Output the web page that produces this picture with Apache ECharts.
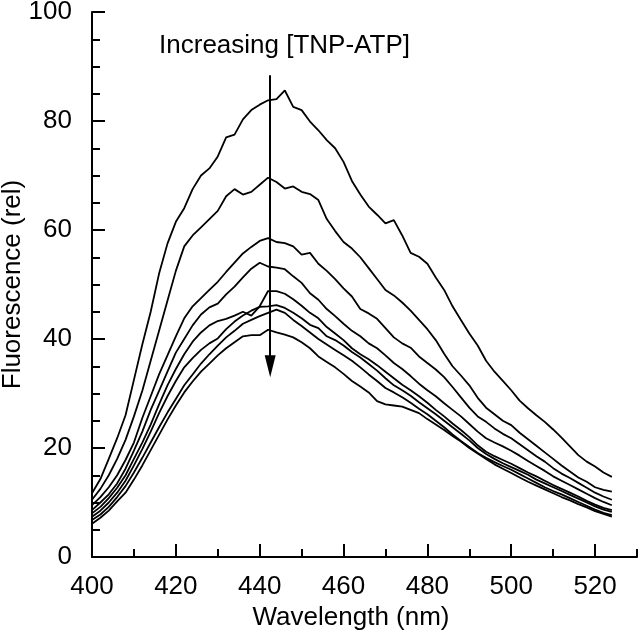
<!DOCTYPE html>
<html>
<head>
<meta charset="utf-8">
<script src="https://cdn.jsdelivr.net/npm/echarts@6/dist/echarts.min.js"></script>
<style>html,body{margin:0;padding:0;background:#fff}#c{width:640px;height:632px}</style>
</head>
<body>
<div id="c"></div>
<script>
var wavelengths = [400,402,404,406,408,410,412,414,416,418,420,422,424,426,428,430,432,434,436,438,440,442,444,446,448,450,452,454,456,458,460,462,464,466,468,470,472,474,476,478,480,482,484,486,488,490,492,494,496,498,500,502,504,506,508,510,512,514,516,518,520,522,524];

var curve1 = [11.7,14.3,18,21.8,26,32.5,39,45,52,57.5,61.5,64,67.5,70,71.3,73.5,77,77.5,80.3,82,83,83.8,84,85.6,82.6,82,79.9,78.3,76.5,75,72.5,69,66.5,64.3,62.8,61.2,61.8,59,55.8,55.1,53.8,51.3,49,46,43.5,41,38.8,36,34,32.3,30.6,28.7,27.3,26,24.8,23.4,21.9,20.3,18.7,17.5,16.6,15.5,14.7];
var curve2 = [10.5,12.5,15,18,21.5,25.8,30.5,36,41.5,47,52.5,57,59,60.5,62,63.5,66.2,67.5,66.5,67,68.3,69.6,68.8,67.6,68,67,66.6,65.5,62,59.8,57.8,56.6,55,53,51,49,48,46.7,45.2,43.5,41.8,39.8,37.3,35,33.3,31.5,29.2,27.4,26.2,25,24.2,22.8,21.6,20.4,19.2,18,16.8,15.7,14.6,13.8,12.8,12.3,12.0];
var curve3 = [9.5,11,12.8,15,17.8,21,25.5,29.5,33.5,37,40.5,43.8,46,47.5,49,50.5,52.3,54,55.7,56.9,58,58.5,57.8,57.6,57,55.5,55.8,53.8,52.5,51,49.3,47.8,45.5,44.7,43.7,42,40.3,39.2,38.4,36.8,35.6,34.4,33,31.2,29.3,27.4,25.8,24.8,23.6,22.6,21.8,20.7,19.6,18.5,17.5,16.3,15.3,14.5,13.6,12.7,11.8,11.1,10.5];
var curve4 = [8.6,10,11.5,13.5,16.2,19.5,23,27,30.5,34,37.5,40,42.5,44.5,45.8,46.5,48.2,49.6,51.3,52.9,54,53.3,53.1,52.8,51.5,50.3,48.4,47.2,45.5,44.2,42.8,41.5,40.5,39.2,38.3,37,35.6,34.5,33.2,31.8,30.6,29.5,28.2,27,25.8,24.4,23,21.8,21,20.3,19.5,18.6,17.6,16.7,15.8,14.8,14,13.2,12.4,11.6,10.8,10.1,9.5];
var curve5 = [8.0,9.2,10.8,12.7,15,18,21,24.3,28,31.5,34.5,37.2,39.5,41.2,42.5,43.3,43.7,44.3,45,44.3,46,48.8,48.8,48.3,47.3,46.1,44.8,43.8,42.2,41,39.8,38.3,37.2,36.3,35.2,34,32.8,31.6,30.6,29.5,28.3,27,25.8,24.5,23.3,22,20.5,19.3,18.5,17.8,17.1,16.3,15.5,14.8,14,13.2,12.5,11.8,11.1,10.3,9.6,9,8.6];
var curve6 = [7.4,8.5,10,11.8,14,16.8,19.8,23,26.4,29.5,32.3,34.8,36.5,38,39.2,40.1,41.8,43.2,44.3,45.2,45.9,46,46.2,45.7,44.8,43.8,42.6,42,40.5,39.8,38.8,37.6,36.6,35.4,34.2,32.8,31.5,30.6,29.6,28.4,27.3,26.2,25,23.8,22.6,21.4,20,18.9,18,17.2,16.5,15.8,15.1,14.2,13.5,12.8,12.1,11.4,10.7,10,9.3,8.7,8.3];
var curve7 = [6.8,7.8,9.2,11,13,15.5,18.2,21,23.8,26.5,29,31.5,33.5,35.5,37.2,38.8,40.3,41.5,42.8,43.5,44.2,44.8,45.4,44.8,43.5,42.4,41.2,40,39,38,37,36,34.8,33.5,32.3,31,30.2,29.3,28.3,27.2,26.2,25,23.8,22.5,21.3,20.2,19.1,18.2,17.4,16.7,16,15.2,14.4,13.6,12.8,12.1,11.5,10.8,10.1,9.4,8.7,8.1,7.7];
var curve8 = [6.1,7.2,8.5,10.2,11.8,14.2,16.8,19.6,22.4,25.2,27.8,30.2,32.2,34,35.5,37,38.3,39.4,40.5,40.7,40.7,41.7,41.2,40.8,40.3,39.4,38.3,36.8,35.8,34.8,33.6,32.3,31.3,30.2,28.6,28,27.8,27.6,27,26.4,25.3,24.3,23.3,22.2,21.2,20,19,18,17,16.2,15.4,14.6,13.8,13.1,12.4,11.7,11,10.4,9.7,9.1,8.4,7.9,7.4];

var xMajorTicks = [400,420,440,460,480,500,520];
var xMinorTicks = [410,430,450,470,490,510,530];
var arrowWavelength = 442.5;
var arrowFrom = 88.4;
var arrowTo = 35;
var annotation = 'Increasing [TNP-ATP]';

var FONT = '"Liberation Sans", Arial, Helvetica, sans-serif';
var curves = [curve1, curve2, curve3, curve4, curve5, curve6, curve7, curve8];

var series = curves.map(function (c, i) {
  var s = {
    type: 'line',
    data: wavelengths.map(function (w, j) { return [w, c[j]]; }),
    showSymbol: false,
    symbol: 'none',
    silent: true,
    lineStyle: { color: '#000', width: 1.8 },
    animation: false
  };
  if (i === 0) {
    s.markLine = {
      silent: true,
      animation: false,
      symbol: ['none', 'triangle'],
      symbolSize: [11, 22],
      label: { show: false },
      lineStyle: { color: '#000', width: 2, type: 'solid' },
      data: [[{ coord: [arrowWavelength, arrowFrom] }, { coord: [arrowWavelength, arrowTo] }]]
    };
  }
  return s;
});

var chart = echarts.init(document.getElementById('c'), null, { renderer: 'canvas' });
chart.setOption({
  animation: false,
  backgroundColor: '#fff',
  grid: { left: 92, right: 3, top: 12, bottom: 75, containLabel: false, outerBoundsMode: 'none' },
  xAxis: [{
    type: 'value', min: 400, max: 530, position: 'bottom',
    axisLine: { show: true, onZero: false, lineStyle: { color: '#000', width: 2 } },
    axisTick: { show: true, inside: true, length: 13, customValues: xMajorTicks, lineStyle: { color: '#000', width: 2 } },
    axisLabel: { customValues: xMajorTicks, color: '#000', fontSize: 26, fontFamily: FONT, margin: 17 },
    splitLine: { show: false },
    name: 'Wavelength (nm)', nameLocation: 'middle', nameGap: 48, nameMoveOverlap: false,
    nameTextStyle: { color: '#000', fontSize: 26, fontFamily: FONT, padding: [0, 27, 0, 0] }
  }, {
    type: 'value', min: 400, max: 530, position: 'bottom',
    axisLine: { show: false },
    axisTick: { show: true, inside: true, length: 8, customValues: xMinorTicks, lineStyle: { color: '#000', width: 2 } },
    axisLabel: { show: false },
    splitLine: { show: false }
  }],
  yAxis: {
    type: 'value', min: 0, max: 100, interval: 20,
    axisLine: { show: true, lineStyle: { color: '#000', width: 2 } },
    axisTick: { show: true, inside: true, length: 13, lineStyle: { color: '#000', width: 2 } },
    minorTick: { show: true, splitNumber: 4, length: 8, lineStyle: { color: '#000', width: 2 } },
    splitLine: { show: false },
    minorSplitLine: { show: false },
    axisLabel: { color: '#000', fontSize: 26, fontFamily: FONT, margin: 20 },
    name: 'Fluorescence (rel)', nameLocation: 'middle', nameGap: 66, nameMoveOverlap: false,
    nameTextStyle: { color: '#000', fontSize: 26, fontFamily: FONT }
  },
  graphic: [{
    type: 'text', x: 284.5, y: 46, silent: true,
    style: { text: annotation, fill: '#000', font: '26px ' + FONT, align: 'center', verticalAlign: 'middle' }
  }],
  series: series
});
</script>
</body>
</html>
